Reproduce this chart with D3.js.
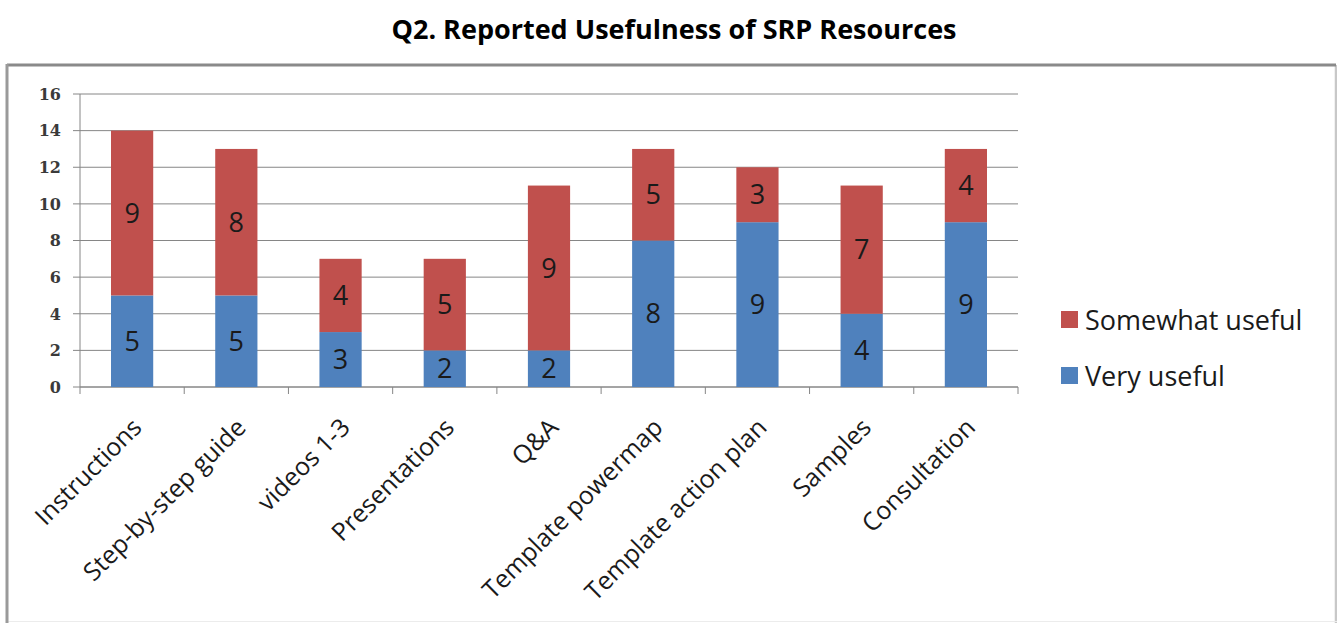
<!DOCTYPE html>
<html><head><meta charset="utf-8">
<script src="https://cdn.jsdelivr.net/npm/d3@7/dist/d3.min.js"></script>
<style>body{margin:0;background:#fff;}svg{display:block;}</style>
</head><body>
<svg id="chart" width="1337" height="623"></svg>
<script>
const categories = ["Instructions","Step-by-step guide","videos 1-3","Presentations","Q&A","Template powermap","Template action plan","Samples","Consultation"];
const veryUseful = [5,5,3,2,2,8,9,4,9];
const somewhatUseful = [9,8,4,5,9,5,3,7,4];
const yTicks = [0,2,4,6,8,10,12,14,16];
const seriesNames = ["Very useful","Somewhat useful"];
const colors = {"Very useful":"#4F81BD","Somewhat useful":"#C0504D"};
const title = "Q2. Reported Usefulness of SRP Resources";

const svg = d3.select("#chart");
const pLeft = 80, pRight = 1018, pTop = 94, pBottom = 387;

svg.append("text").attr("x", 674).attr("y", 39).attr("text-anchor","middle")
  .attr("font-family","Open Sans").attr("font-weight","bold").attr("font-size",27)
  .attr("fill","#000").text(title);

// frame: darker top/left, lighter right/bottom
svg.append("line").attr("x1",1336).attr("x2",1336).attr("y1",65).attr("y2",623).attr("stroke","#c8c8c8").attr("stroke-width",2.5);
svg.append("line").attr("x1",6).attr("x2",1337).attr("y1",621.5).attr("y2",621.5).attr("stroke","#ececec").attr("stroke-width",1);
svg.append("line").attr("x1",7).attr("x2",1336).attr("y1",65).attr("y2",65).attr("stroke","#8a8a8a").attr("stroke-width",3);
svg.append("line").attr("x1",7).attr("x2",7).attr("y1",64).attr("y2",623).attr("stroke","#9a9a9a").attr("stroke-width",3);

const x = d3.scaleBand().domain(categories).range([pLeft,pRight]).paddingInner(0.595).paddingOuter(0.2975);
const y = d3.scaleLinear().domain([0,16]).range([pBottom,pTop]);

// gridlines
svg.append("g").selectAll("line").data(yTicks).join("line")
  .attr("x1", pLeft-7).attr("x2", pRight).attr("y1", d=>y(d)).attr("y2", d=>y(d))
  .attr("stroke","#868686").attr("stroke-width",1);

svg.append("line").attr("x1",pLeft).attr("x2",pLeft).attr("y1",pTop).attr("y2",pBottom)
  .attr("stroke","#868686");
svg.append("line").attr("x1",pLeft).attr("x2",pRight).attr("y1",pBottom).attr("y2",pBottom)
  .attr("stroke","#868686");
const step = x.step();
svg.append("g").selectAll("line").data(d3.range(categories.length+1)).join("line")
  .attr("x1", i=>pLeft+i*step).attr("x2", i=>pLeft+i*step).attr("y1",pBottom).attr("y2",pBottom+7)
  .attr("stroke","#868686");

// y labels
svg.append("g").selectAll("text").data(yTicks).join("text")
  .attr("x", 61).attr("y", d=>y(d)).attr("dy","0.36em").attr("text-anchor","end")
  .attr("font-family","DejaVu Serif").attr("font-weight","bold").attr("font-size",16)
  .attr("fill","#3a3a3a").text(d=>d);

// stacked bars
const rows = categories.map((c,i)=>({cat:c,"Very useful":veryUseful[i],"Somewhat useful":somewhatUseful[i]}));
const stack = d3.stack().keys(seriesNames)(rows);
const g = svg.append("g");
stack.forEach(layer=>{
  g.append("g").selectAll("rect").data(layer).join("rect")
    .attr("x", d=>x(d.data.cat)).attr("width", x.bandwidth())
    .attr("y", d=>y(d[1])).attr("height", d=>y(d[0])-y(d[1]))
    .attr("fill", colors[layer.key]);
  g.append("g").selectAll("text").data(layer).join("text")
    .attr("x", d=>x(d.data.cat)+x.bandwidth()/2).attr("y", d=>(y(d[0])+y(d[1]))/2)
    .attr("dy","0.36em").attr("text-anchor","middle")
    .attr("font-family","Open Sans").attr("font-size",27).attr("fill","#1a1a1a")
    .text(d=>d.data[layer.key]);
});

// category labels
svg.append("g").selectAll("text").data(categories).join("text")
  .attr("transform", d=>`translate(${x(d)+x.bandwidth()/2+11},${pBottom+42}) rotate(-45)`)
  .attr("text-anchor","end").attr("font-family","Open Sans").attr("font-size",25)
  .attr("fill","#1a1a1a").text(d=>d);

// legend
const legendItems = ["Somewhat useful","Very useful"];
const lg = svg.append("g").selectAll("g").data(legendItems).join("g")
  .attr("transform",(d,i)=>`translate(1061,${311+i*56})`);
lg.append("rect").attr("width",17).attr("height",17).attr("fill",d=>colors[d]);
lg.append("text").attr("x",24).attr("y",9).attr("dy","0.36em")
  .attr("font-family","Open Sans").attr("font-size",27).attr("fill","#1a1a1a").text(d=>d);
</script>
</body></html>
